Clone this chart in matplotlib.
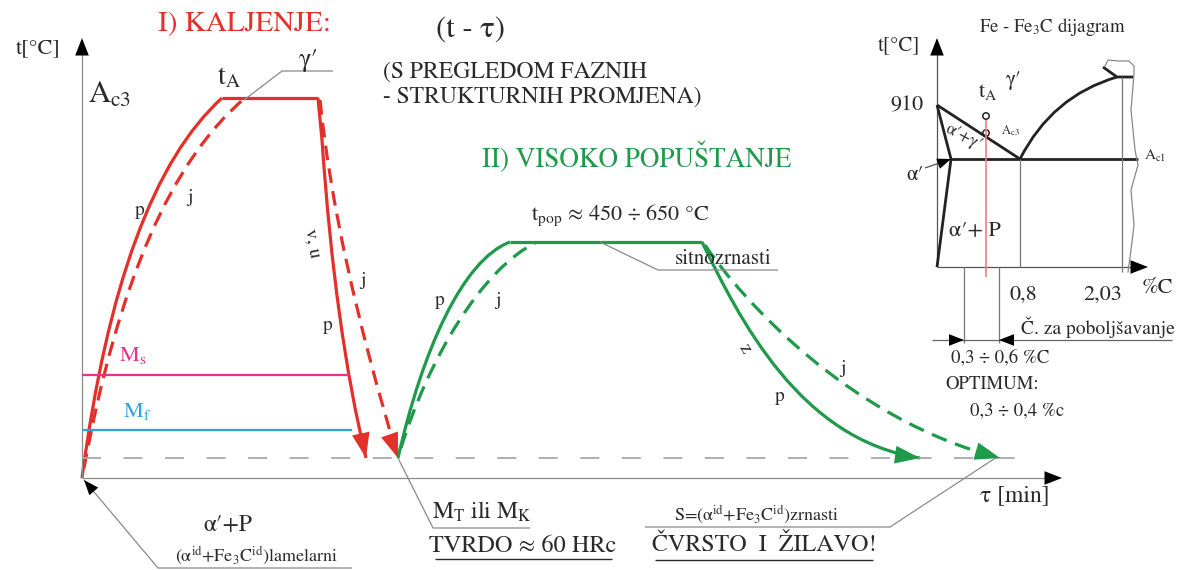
import matplotlib
matplotlib.use('Agg')
import matplotlib.pyplot as plt
from matplotlib.path import Path
from matplotlib.patches import PathPatch, Circle

plt.rcParams['font.family'] = ['STIXGeneral', 'DejaVu Serif']
plt.rcParams['mathtext.fontset'] = 'stix'

# Schematic coordinates (x = time tau, y = temperature, y grows downwards)
origin = (82, 478)
tau_end = 1062
t_top = 38
base_y = 458          # room temperature (dashed)
ms_y = 375
mf_y = 430
plateau_a = 98        # t_A
plateau_pop = 242     # t_pop

# I) kaljenje: heating (quadratic bezier: start, control, end)
red_heat_p = [(82, 478), (120, 190), (222, 98)]
red_heat_j = [(84, 468), (135, 190), (245, 98)]
red_hold = [(222, 98), (318, 98)]
# cooling: p goes through a short straight piece first
red_cool_p = [(318, 98), (322, 140), (335, 330), (366, 458)]
red_cool_j = [(320, 100), (335, 250), (398, 458)]

# II) visoko popustanje (cubic bezier)
green_heat_p = [(398, 458), (422, 352), (462, 260), (510, 242)]
green_heat_j = [(401, 448), (428, 360), (482, 268), (537, 242)]
green_hold = [(510, 242), (702, 242)]
green_cool_p = [(702, 242), (740, 320), (800, 440), (920, 458)]
green_cool_j = [(705, 245), (742, 300), (850, 420), (1000, 458)]

# Fe - Fe3C inset
fe_origin = (937, 267)
fe_910 = (937, 105)
fe_alpha = (951, 159)
fe_eut = (1020, 159)
fe_ac1_end = (1138, 159)
fe_acm = [(1020, 159), (1052, 96), (1117, 77)]
fe_203_x = 1122
fe_tA_x = 986
fe_dim = [964, 999]

RED = '#e3302a'
GREEN = '#1e9a4a'
MAG = '#e8308c'
BLUE = '#27a6df'
GRAY = '#8a8a8a'
TXT = '#2a2a2a'

fig = plt.figure(figsize=(11.84, 5.70), dpi=100)
ax = fig.add_axes([0, 0, 1, 1])
ax.set_xlim(0, 1184)
ax.set_ylim(570, 0)
ax.axis('off')


def curve(pts, color, lw=2.3, dashed=False, dashes=(4.6, 2.6)):
    if len(pts) == 2:
        codes = [Path.MOVETO, Path.LINETO]
    elif len(pts) == 3:
        codes = [Path.MOVETO, Path.CURVE3, Path.CURVE3]
    else:
        codes = [Path.MOVETO] + [Path.CURVE4] * (len(pts) - 1)
    patch = PathPatch(Path(pts, codes), fill=False, edgecolor=color, lw=lw,
                      capstyle='butt')
    if dashed:
        patch.set_linestyle((0, dashes))
    ax.add_patch(patch)


def head(tip, frm, color, size=20, hl=0.9, hw=0.32):
    ax.annotate('', xy=tip, xytext=frm,
                arrowprops=dict(arrowstyle='-|>,head_length=%s,head_width=%s' % (hl, hw),
                                color=color, lw=0, shrinkA=0, shrinkB=0,
                                mutation_scale=size))


def line(xs, ys, color=GRAY, lw=0.9, **kw):
    ax.plot(xs, ys, color=color, lw=lw, solid_capstyle='butt', **kw)


def txt(x, y, s, size=15, color=TXT, **kw):
    kw.setdefault('ha', 'center')
    kw.setdefault('va', 'center')
    ax.text(x, y, s, fontsize=size, color=color, **kw)


# ---- main axes ----
line([origin[0], origin[0]], [origin[1], t_top + 8])
line([origin[0], tau_end - 8], [origin[1], origin[1]])
head((origin[0], t_top), (origin[0], t_top + 12), 'black', size=14, hl=0.9, hw=0.35)
head((tau_end, origin[1]), (tau_end - 12, origin[1]), 'black', size=14, hl=0.9, hw=0.35)
ax.plot([origin[0], 1020], [base_y, base_y], color='#a8a8a8', lw=1.3,
        dashes=(10.5, 12.5))

# Ms, Mf
line([origin[0], 350], [ms_y, ms_y], color=MAG, lw=1.6)
line([origin[0], 352], [mf_y, mf_y], color=BLUE, lw=1.6)
txt(133, 356, r'M$_{\mathrm{s}}$', 16, MAG)
txt(137, 411, r'M$_{\mathrm{f}}$', 16, BLUE)

# red curves
curve(red_heat_p, RED)
curve(red_heat_j, RED, dashed=True)
curve(red_hold, RED)
curve(red_cool_p[:2], RED)
curve(red_cool_p[1:], RED)
curve(red_cool_j, RED, dashed=True)
head(red_cool_p[-1], (360, 430), RED, size=20)
head(red_cool_j[-1], (388, 430), RED, size=20)

# green curves
curve(green_heat_p, GREEN)
curve(green_heat_j, GREEN, dashed=True, dashes=(5, 2.8))
curve(green_hold, GREEN)
curve(green_cool_p, GREEN)
curve(green_cool_j, GREEN, dashed=True, dashes=(5, 2.8))
head(green_cool_p[-1], (890, 454), GREEN, size=20)
head(green_cool_j[-1], (972, 450), GREEN, size=20)

# main texts
txt(245, 24, 'I) KALJENJE:', 21, RED)
txt(470, 30, '(t - τ)', 22)
txt(383, 72, '(S PREGLEDOM FAZNIH', 17, ha='left')
txt(383, 97, '- STRUKTURNIH PROMJENA)', 17, ha='left')
txt(637, 157, 'II) VISOKO POPUŠTANJE', 19.5, GREEN)
txt(38, 48, 't[°C]', 16)
txt(110, 95, r'A$_{\mathrm{c3}}$', 22)
txt(229, 78, r't$_{\mathrm{A}}$', 20)
txt(309, 60, 'γ′', 19)
line([244, 282, 333], [100, 71, 71])
txt(140, 210, 'p', 14)
txt(190, 197, 'j', 14)
txt(313, 243, 'v, u', 14, rotation=-80)
txt(363, 280, 'j', 14)
txt(328, 325, 'p', 14)

txt(620, 215, r't$_{\mathrm{pop}}$ ≈ 450 ÷ 650 °C', 16)
txt(723, 259, 'sitnozrnasti', 15)
line([600, 658, 778], [242, 270, 270])
txt(440, 300, 'p', 14)
txt(498, 300, 'j', 14)
txt(745, 348, 'z', 14, rotation=-60)
txt(780, 396, 'p', 14)
txt(843, 368, 'j', 14)

txt(1015, 495, 'τ [min]', 17)

# bottom annotations
line([84, 158, 352], [480, 568, 568])
head((84, 480), (96, 494), 'black', size=12, hl=0.9, hw=0.35)
txt(228, 525, 'α′+P', 17)
txt(256, 555, r'(α$^{\mathrm{id}}$+Fe$_{\mathrm{3}}$C$^{\mathrm{id}}$)lamelarni', 13)

line([398, 433, 530], [458, 528, 528])
txt(482, 512, r'M$_{\mathrm{T}}$ ili M$_{\mathrm{K}}$', 17)
txt(523, 546, 'TVRDO ≈ 60 HRc', 17.5)
line([435, 612], [559, 559], color=TXT, lw=1.0)

txt(757, 514, r'S=(α$^{\mathrm{id}}$+Fe$_{\mathrm{3}}$C$^{\mathrm{id}}$)zrnasti', 13)
line([645, 890, 997], [527, 527, 457])
txt(764, 545, 'ČVRSTO  I  ŽILAVO!', 17.3)
line([655, 873], [560, 560], color=TXT, lw=1.0)

# ---- Fe - Fe3C inset ----
DK = '#222222'
line([fe_origin[0], fe_origin[0]], [fe_origin[1], 48], color='#555555')
line([fe_origin[0], 1138], [fe_origin[1], fe_origin[1]], color='#555555')
head((fe_origin[0], 38), (fe_origin[0], 50), 'black', size=14, hl=0.9, hw=0.35)
head((1148, fe_origin[1]), (1136, fe_origin[1]), 'black', size=14, hl=0.9, hw=0.35)

line([fe_910[0], fe_eut[0]], [fe_910[1], fe_eut[1]], color=DK, lw=2.0)
line([fe_910[0], fe_alpha[0], fe_origin[0]], [fe_910[1], fe_alpha[1], fe_origin[1]],
     color=DK, lw=2.0)
line([fe_alpha[0], fe_ac1_end[0]], [fe_alpha[1], fe_ac1_end[1]], color=DK, lw=2.0)
curve(fe_acm, DK, lw=2.0)
line([1103, 1117, 1133], [67, 77, 77], color=DK, lw=2.0)
line([fe_eut[0], fe_eut[0]], [fe_eut[1], fe_origin[1]], color='#777777', lw=0.9)
line([fe_203_x, fe_203_x], [77, 272], color='#777777', lw=0.9)
# wavy break
wave = [(1105, 66), (1108, 60), (1118, 61), (1129, 61), (1134, 66), (1134, 74),
        (1131, 110), (1135, 150), (1138, 165), (1131, 190), (1134, 225),
        (1131, 250), (1128, 272)]
ax.plot([p[0] for p in wave], [p[1] for p in wave], color='#888888', lw=0.9)

line([fe_tA_x, fe_tA_x], [120, 277], color='#f08080', lw=1.2)
ax.add_patch(Circle((fe_tA_x, 116), 3.2, fill=False, ec=DK, lw=1.1))
ax.add_patch(Circle((fe_tA_x, 133), 3.2, fill=False, ec=DK, lw=1.1))

for xd in fe_dim:
    line([xd, xd], [fe_origin[1], 343], color='#777777', lw=0.9)
line([932, 1172], [340, 340], color='#666666', lw=0.9)
head((fe_dim[0], 340), (fe_dim[0] - 14, 340), 'black', size=12, hl=0.9, hw=0.35)
head((fe_dim[1], 340), (fe_dim[1] + 14, 340), 'black', size=12, hl=0.9, hw=0.35)

line([925, 948], [168, 160], color='#555555', lw=0.9)
head((951, 159), (940, 163), 'black', size=11, hl=0.9, hw=0.35)

txt(1052, 27, r'Fe - Fe$_{\mathrm{3}}$C dijagram', 13.5)
txt(899, 45, 't[°C]', 15)
txt(907, 106, '910', 16)
txt(988, 92, r't$_{\mathrm{A}}$', 16)
txt(1014, 80, 'γ′', 15)
txt(1010, 131, r'A$_{\mathrm{c3}}$', 9)
txt(964, 137, 'α′+γ′', 12.5, rotation=-28)
txt(1155, 156, r'A$_{\mathrm{c1}}$', 11)
txt(915, 175, 'α′', 15)
txt(975, 230, 'α′+ P', 16)
txt(1023, 295, '0,8', 16)
txt(1103, 295, '2,03', 16)
txt(1157, 288, '%C', 16)
txt(1098, 327, 'Č. za poboljšavanje', 14)
txt(1000, 358, '0,3 ÷ 0,6 %C', 13.5)
txt(992, 384, 'OPTIMUM:', 13.5)
txt(1017, 411, '0,3 ÷ 0,4 %c', 13.5)

fig.savefig('out.png', dpi=100)
